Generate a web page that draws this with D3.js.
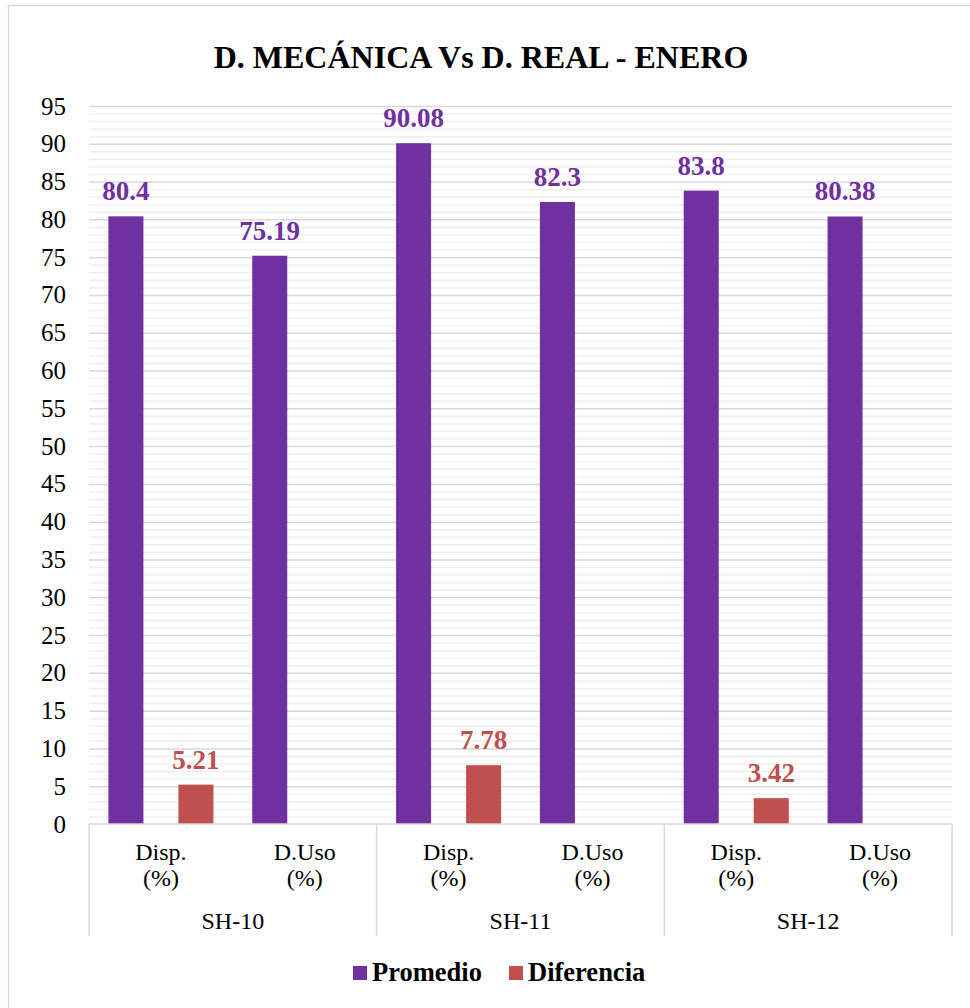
<!DOCTYPE html>
<html>
<head>
<meta charset="utf-8">
<script src="https://cdn.jsdelivr.net/npm/d3@7"></script>
<style>
  body { margin: 0; background: #fff; }
  svg text { font-family: "Liberation Serif", "Times New Roman", serif; }
</style>
</head>
<body>
<div id="chart"></div>
<script>
var groups     = ["SH-10", "SH-11", "SH-12"];
var subLabels  = [["Disp.", "(%)"], ["D.Uso", "(%)"]];
var promedio   = [80.4, 75.19, 90.08, 82.3, 83.8, 80.38];
var diferencia = [5.21, null, 7.78, null, 3.42, null];
var seriesNames = ["Promedio", "Diferencia"];
var colors  = ["#7030A0", "#C0504D"];
var yMax = 95;

var width = 970, height = 1008;
var plotL = 89, plotR = 952, plotT = 106, plotB = 824;

var svg = d3.select("#chart").append("svg")
    .attr("width", width)
    .attr("height", height);

// chart frame
svg.append("rect")
    .attr("x", 8.5).attr("y", 5.5)
    .attr("width", 1000).attr("height", 1050)
    .attr("fill", "none")
    .attr("stroke", "#d9d9d9")
    .attr("stroke-width", 1.5);

svg.append("text")
    .attr("x", 481).attr("y", 68)
    .attr("text-anchor", "middle")
    .attr("font-size", "32px")
    .attr("font-weight", "bold")
    .attr("fill", "#000")
    .text("D. MECÁNICA Vs D. REAL - ENERO");

// one slot per (group, sub category)
var slots = [];
groups.forEach(function(g, gi) {
    subLabels.forEach(function(s, si) {
        slots.push({ group: g, sub: s, idx: gi * subLabels.length + si });
    });
});

var x0 = d3.scaleBand()
    .domain(slots.map(function(d) { return d.idx; }))
    .range([plotL, plotR]);

var xg = d3.scaleBand()
    .domain(groups)
    .range([plotL, plotR]);

var x1 = d3.scaleBand()
    .domain(seriesNames)
    .range([0, x0.bandwidth()])
    .paddingInner(0.5)
    .paddingOuter(0.277);

var y = d3.scaleLinear()
    .domain([0, yMax])
    .range([plotB, plotT]);

// minor gridlines
svg.append("g")
    .attr("transform", "translate(" + plotL + ",0)")
    .call(d3.axisLeft(y).tickValues(d3.range(1, yMax, 1).filter(function(v) { return v % 5 !== 0; }))
        .tickSizeInner(-(plotR - plotL)).tickSizeOuter(0).tickFormat(""))
    .call(function(g) { g.select(".domain").remove(); })
    .selectAll("line").attr("stroke", "#efefef").attr("stroke-width", 1.5);

// major gridlines
svg.append("g")
    .attr("transform", "translate(" + plotL + ",0)")
    .call(d3.axisLeft(y).tickValues(d3.range(5, yMax + 1, 5))
        .tickSizeInner(-(plotR - plotL)).tickSizeOuter(0).tickFormat(""))
    .call(function(g) { g.select(".domain").remove(); })
    .selectAll("line").attr("stroke", "#d9d9d9").attr("stroke-width", 1.5);

// y axis labels
var yAxis = svg.append("g")
    .attr("transform", "translate(66,0)")
    .call(d3.axisLeft(y).tickValues(d3.range(0, yMax + 1, 5)).tickSize(0).tickPadding(0));
yAxis.select(".domain").remove();
yAxis.selectAll("text")
    .attr("font-size", "25px")
    .attr("fill", "#000")
    .style("font-family", "'Liberation Serif', 'Times New Roman', serif");

// bars
var barData = [];
slots.forEach(function(s) {
    [promedio, diferencia].forEach(function(arr, k) {
        var v = arr[s.idx];
        if (v !== null) barData.push({ idx: s.idx, series: seriesNames[k], value: v, color: colors[k] });
    });
});

var bar = svg.selectAll(".bar-group")
    .data(barData)
    .enter().append("g").attr("class", "bar-group");

bar.append("rect")
    .attr("x", function(d) { return x0(d.idx) + x1(d.series); })
    .attr("width", x1.bandwidth())
    .attr("y", function(d) { return y(d.value); })
    .attr("height", function(d) { return plotB - y(d.value); })
    .attr("fill", function(d) { return d.color; });

bar.append("text")
    .attr("x", function(d) { return x0(d.idx) + x1(d.series) + x1.bandwidth() / 2; })
    .attr("y", function(d) { return y(d.value) - 16; })
    .attr("text-anchor", "middle")
    .attr("font-size", "27px")
    .attr("font-weight", "bold")
    .attr("fill", function(d) { return d.color; })
    .text(function(d) { return d.value; });

// category axis
var axisG = svg.append("g").attr("class", "x axis");
axisG.append("line")
    .attr("x1", plotL).attr("x2", plotR)
    .attr("y1", plotB).attr("y2", plotB)
    .attr("stroke", "#d9d9d9").attr("stroke-width", 1.5);

axisG.selectAll(".sep")
    .data(groups.concat(["end"]))
    .enter().append("line")
    .attr("class", "sep")
    .attr("x1", function(d, i) { return i < groups.length ? xg(d) : plotR; })
    .attr("x2", function(d, i) { return i < groups.length ? xg(d) : plotR; })
    .attr("y1", plotB).attr("y2", 936)
    .attr("stroke", "#d9d9d9").attr("stroke-width", 1.5);

var sub = axisG.selectAll(".sub")
    .data(slots)
    .enter().append("text")
    .attr("class", "sub")
    .attr("text-anchor", "middle")
    .attr("font-size", "24px")
    .attr("fill", "#000");

sub.append("tspan")
    .attr("x", function(d) { return x0(d.idx) + x0.bandwidth() / 2; })
    .attr("y", 860)
    .text(function(d) { return d.sub[0]; });
sub.append("tspan")
    .attr("x", function(d) { return x0(d.idx) + x0.bandwidth() / 2; })
    .attr("y", 886)
    .text(function(d) { return d.sub[1]; });

axisG.selectAll(".grp")
    .data(groups)
    .enter().append("text")
    .attr("class", "grp")
    .attr("x", function(d) { return xg(d) + xg.bandwidth() / 2; })
    .attr("y", 929)
    .attr("text-anchor", "middle")
    .attr("font-size", "24px")
    .attr("fill", "#000")
    .text(function(d) { return d; });

// legend
var legendX = [353, 509];
var legend = svg.selectAll(".legend")
    .data(seriesNames)
    .enter().append("g").attr("class", "legend")
    .attr("transform", function(d, i) { return "translate(" + legendX[i] + ",966)"; });

legend.append("rect")
    .attr("width", 14).attr("height", 14)
    .attr("fill", function(d, i) { return colors[i]; });

legend.append("text")
    .attr("x", 19).attr("y", 15)
    .attr("font-size", "26.5px")
    .attr("font-weight", "bold")
    .attr("fill", "#000")
    .text(function(d) { return d; });
</script>
</body>
</html>
